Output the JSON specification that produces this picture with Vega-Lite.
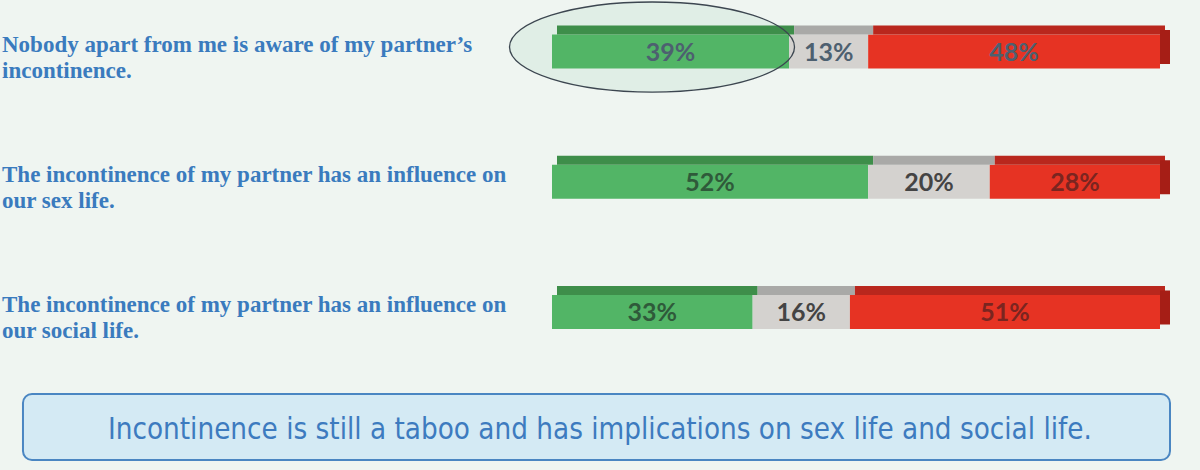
{
  "$schema": "https://vega.github.io/schema/vega-lite/v6.json",
  "width": 1200,
  "height": 470,
  "autosize": "none",
  "padding": 0,
  "background": "#EFF5F1",
  "datasets": {
    "survey": [
      {"row": 1, "response": "agree", "order": 1, "share": 0.39},
      {"row": 1, "response": "neutral", "order": 2, "share": 0.13},
      {"row": 1, "response": "disagree", "order": 3, "share": 0.48},
      {"row": 2, "response": "agree", "order": 1, "share": 0.52},
      {"row": 2, "response": "neutral", "order": 2, "share": 0.20},
      {"row": 2, "response": "disagree", "order": 3, "share": 0.28},
      {"row": 3, "response": "agree", "order": 1, "share": 0.33},
      {"row": 3, "response": "neutral", "order": 2, "share": 0.16},
      {"row": 3, "response": "disagree", "order": 3, "share": 0.51}
    ],
    "questions": [
      {"row": 1, "question": "Nobody apart from me is aware of my partner’s\nincontinence."},
      {"row": 2, "question": "The incontinence of my partner has an influence on\nour sex life."},
      {"row": 3, "question": "The incontinence of my partner has an influence on\nour social life."}
    ],
    "note": [
      {"note": "Incontinence is still a taboo and has implications on sex life and social life."}
    ]
  },
  "layer": [
    {
      "data": {"name": "note"},
      "mark": {
        "type": "point",
        "shape": "M-1,0 A1,0.316 0 1,1 1,0 A1,0.316 0 1,1 -1,0 Z",
        "size": 81225,
        "filled": true,
        "fill": "#E0EEE6",
        "opacity": 1
      },
      "encoding": {
        "x": {"datum": 0.1645, "type": "quantitative", "scale": {"domain": [-0.90789, 1.06579], "nice": false, "zero": false}, "axis": null},
        "y": {"datum": 0.9655, "type": "quantitative", "scale": {"domain": [0.6046, 4.2131], "nice": false, "zero": false, "reverse": true}, "axis": null}
      }
    },
    {
      "data": {"name": "survey"},
      "transform": [
        {"stack": "share", "groupby": ["row"], "sort": [{"field": "order"}], "as": ["x0", "x1"]}
      ],
      "layer": [
        {
          "mark": {"type": "rect", "yOffset": -17, "y2Offset": 17},
          "encoding": {
            "x": {"field": "x0", "type": "quantitative", "scale": {"domain": [-0.90789, 1.06579], "nice": false, "zero": false}, "axis": null},
            "x2": {"field": "x1"},
            "y": {"field": "row", "type": "quantitative", "scale": {"domain": [0.6046, 4.2131], "nice": false, "zero": false, "reverse": true}, "axis": null},
            "y2": {"field": "row"},
            "color": {
              "field": "response",
              "type": "nominal",
              "scale": {"domain": ["agree", "neutral", "disagree"], "range": ["#52B566", "#D4D2CF", "#E63323"]},
              "legend": null
            }
          }
        },
        {
          "mark": {"type": "rect", "yOffset": -26, "y2Offset": -17, "xOffset": 5, "x2Offset": 5},
          "encoding": {
            "x": {"field": "x0", "type": "quantitative", "scale": {"domain": [-0.90789, 1.06579], "nice": false, "zero": false}, "axis": null},
            "x2": {"field": "x1"},
            "y": {"field": "row", "type": "quantitative", "scale": {"domain": [0.6046, 4.2131], "nice": false, "zero": false, "reverse": true}, "axis": null},
            "y2": {"field": "row"},
            "fill": {
              "field": "response",
              "type": "nominal",
              "scale": {"domain": ["agree", "neutral", "disagree"], "range": ["#3E8E4A", "#A9A9A7", "#B9271D"]},
              "legend": null
            }
          }
        },
        {
          "transform": [{"filter": "datum.order == 3"}],
          "mark": {"type": "rect", "yOffset": -21.5, "y2Offset": 12.5, "xOffset": 0, "x2Offset": 10, "color": "#A61E16"},
          "encoding": {
            "x": {"field": "x1", "type": "quantitative", "scale": {"domain": [-0.90789, 1.06579], "nice": false, "zero": false}, "axis": null},
            "x2": {"field": "x1"},
            "y": {"field": "row", "type": "quantitative", "scale": {"domain": [0.6046, 4.2131], "nice": false, "zero": false, "reverse": true}, "axis": null},
            "y2": {"field": "row"}
          }
        },
        {
          "transform": [
            {"fold": ["x0", "x1"], "as": ["edge", "xpos"]},
            {"aggregate": [{"op": "mean", "field": "xpos", "as": "xmid"}], "groupby": ["row", "response", "share"]}
          ],
          "mark": {"type": "text", "font": "Lato", "fontSize": 25, "fontWeight": "bold", "baseline": "middle", "align": "center", "dy": 1},
          "encoding": {
            "x": {"field": "xmid", "type": "quantitative", "scale": {"domain": [-0.90789, 1.06579], "nice": false, "zero": false}, "axis": null},
            "y": {"field": "row", "type": "quantitative", "scale": {"domain": [0.6046, 4.2131], "nice": false, "zero": false, "reverse": true}, "axis": null},
            "text": {"field": "share", "type": "quantitative", "format": ".0%"},
            "color": {
              "condition": [
                {"test": "datum.row == 1", "value": "#4D6070"},
                {"test": "datum.response == 'disagree'", "value": "#7A2520"},
                {"test": "datum.response == 'neutral'", "value": "#444444"}
              ],
              "value": "#2F5A3A"
            }
          }
        }
      ]
    },
    {
      "data": {"name": "note"},
      "mark": {
        "type": "point",
        "shape": "M-1,0 A1,0.316 0 1,1 1,0 A1,0.316 0 1,1 -1,0 Z",
        "size": 81225,
        "filled": false,
        "stroke": "#3C4650",
        "strokeWidth": 1.3,
        "opacity": 1
      },
      "encoding": {
        "x": {"datum": 0.1645, "type": "quantitative", "scale": {"domain": [-0.90789, 1.06579], "nice": false, "zero": false}, "axis": null},
        "y": {"datum": 0.9655, "type": "quantitative", "scale": {"domain": [0.6046, 4.2131], "nice": false, "zero": false, "reverse": true}, "axis": null}
      }
    },
    {
      "data": {"name": "questions"},
      "mark": {
        "type": "text",
        "font": "Liberation Serif",
        "fontSize": 23,
        "fontWeight": "bold",
        "color": "#3A7BBE",
        "align": "left",
        "baseline": "middle",
        "lineBreak": "\n",
        "lineHeight": 26,
        "dy": -7
      },
      "encoding": {
        "x": {"datum": -0.9046, "type": "quantitative", "scale": {"domain": [-0.90789, 1.06579], "nice": false, "zero": false}, "axis": null},
        "y": {"field": "row", "type": "quantitative", "scale": {"domain": [0.6046, 4.2131], "nice": false, "zero": false, "reverse": true}, "axis": null},
        "text": {"field": "question"}
      }
    },
    {
      "data": {"name": "note"},
      "layer": [
        {
          "mark": {"type": "rect", "cornerRadius": 9, "fill": "#D4EAF4", "stroke": "#4A86C2", "strokeWidth": 2},
          "encoding": {
            "x": {"datum": -0.8701, "type": "quantitative", "scale": {"domain": [-0.90789, 1.06579], "nice": false, "zero": false}, "axis": null},
            "x2": {"datum": 1.01645},
            "y": {"datum": 3.6296, "type": "quantitative", "scale": {"domain": [0.6046, 4.2131], "nice": false, "zero": false, "reverse": true}, "axis": null},
            "y2": {"datum": 4.1363}
          }
        },
        {
          "mark": {
            "type": "text",
            "font": "Liberation Sans Narrow, DejaVu Sans Condensed, Lato",
            "fontSize": 29.3,
            "color": "#3D7BBF",
            "align": "center",
            "baseline": "middle",
            "dy": 2
          },
          "encoding": {
            "x": {"datum": 0.0789, "type": "quantitative", "scale": {"domain": [-0.90789, 1.06579], "nice": false, "zero": false}, "axis": null},
            "y": {"datum": 3.8906, "type": "quantitative", "scale": {"domain": [0.6046, 4.2131], "nice": false, "zero": false, "reverse": true}, "axis": null},
            "text": {"field": "note"}
          }
        }
      ]
    }
  ],
  "config": {
    "view": {"stroke": null}
  }
}
